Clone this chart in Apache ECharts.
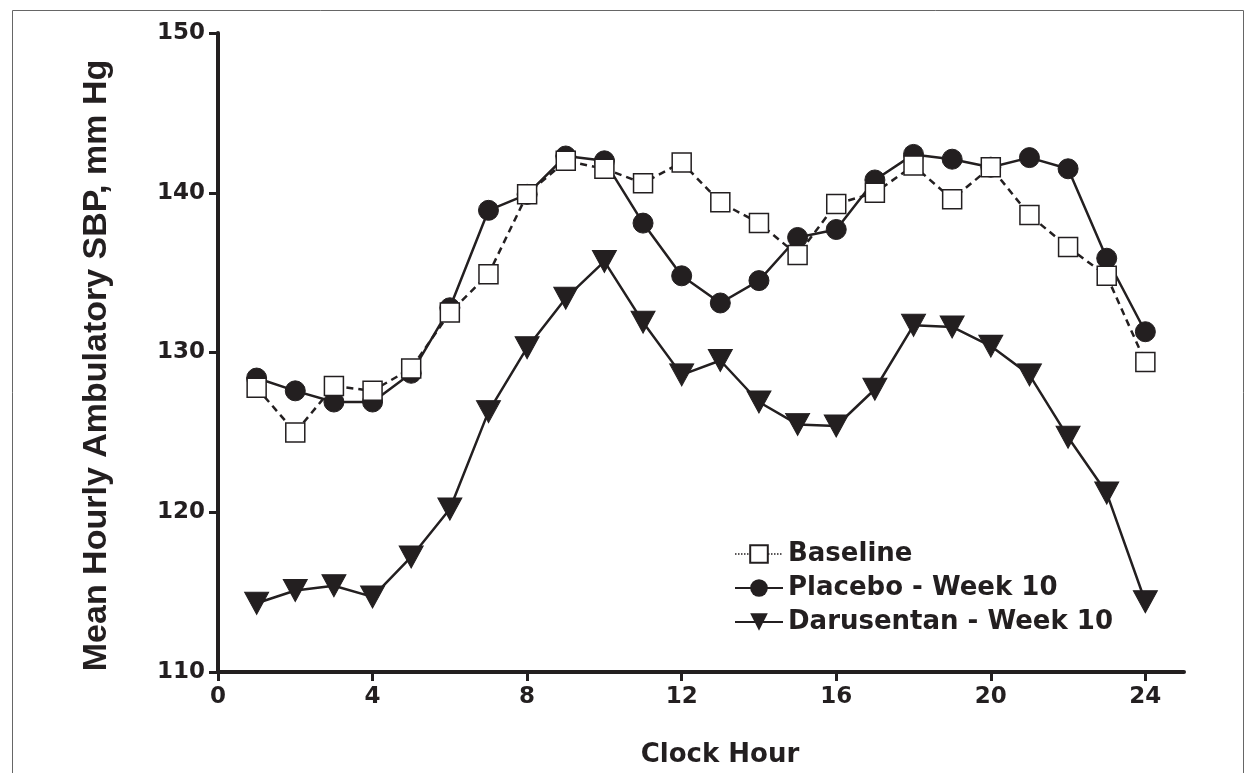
<!DOCTYPE html>
<html>
<head>
<meta charset="utf-8">
<script src="https://cdn.jsdelivr.net/npm/echarts@6/dist/echarts.min.js"></script>
<style>
  html, body { margin: 0; padding: 0; background: #fff; }
  #chart { width: 1252px; height: 773px; }
</style>
</head>
<body>
<div id="chart"></div>
<script>
// clock hour 1..24
var hours = [1, 2, 3, 4, 5, 6, 7, 8, 9, 10, 11, 12, 13, 14, 15, 16, 17, 18, 19, 20, 21, 22, 23, 24];
var baseline = [127.8, 125.0, 127.9, 127.6, 129.0, 132.5, 134.9, 139.9, 142.0, 141.5, 140.6, 141.9,
                139.4, 138.1, 136.1, 139.3, 140.0, 141.7, 139.6, 141.6, 138.6, 136.6, 134.8, 129.4];
var placebo = [128.4, 127.6, 126.9, 126.9, 128.7, 132.8, 138.9, 139.9, 142.3, 142.0, 138.1, 134.8,
               133.1, 134.5, 137.2, 137.7, 140.8, 142.4, 142.1, 141.6, 142.2, 141.5, 135.9, 131.3];
var darusentan = [114.3, 115.1, 115.4, 114.7, 117.2, 120.2, 126.3, 130.3, 133.4, 135.7, 131.9, 128.6,
                  129.5, 126.9, 125.5, 125.4, 127.7, 131.7, 131.6, 130.4, 128.6, 124.7, 121.2, 114.4];
var xTicks = [0, 4, 8, 12, 16, 20, 24];
var seriesNames = ['Baseline', 'Placebo - Week 10', 'Darusentan - Week 10'];

var ink = '#231f20';
function pairs(vals) {
    return hours.map(function (h, i) { return [h, vals[i]]; });
}

var chart = echarts.init(document.getElementById('chart'));
chart.setOption({
    animation: false,
    backgroundColor: '#fff',
    // thin frame round the figure
    graphic: [{
        type: 'rect',
        left: 10, top: 8,
        shape: { width: 1231, height: 800 },
        style: { fill: 'none', stroke: '#666', lineWidth: 1 },
        silent: true
    }],
    grid: {
        left: 218,
        right: 68,
        top: 33,
        bottom: 101,
        containLabel: false
    },
    legend: {
        orient: 'vertical',
        left: 729,
        top: 536,
        itemWidth: 48,
        itemHeight: 22,
        itemGap: 8,
        data: [
            { name: seriesNames[0], lineStyle: { type: 'dotted', width: 1.5 } },
            { name: seriesNames[1] },
            { name: seriesNames[2] }
        ],
        textStyle: {
            color: ink,
            fontFamily: 'DejaVu Sans',
            fontWeight: 'bold',
            fontSize: 26
        }
    },
    xAxis: {
        type: 'value',
        min: 0,
        max: 25,
        name: 'Clock Hour',
        nameLocation: 'middle',
        nameGap: 70,
        nameTextStyle: {
            color: ink,
            fontFamily: 'DejaVu Sans',
            fontWeight: 'bold',
            fontSize: 26,
            padding: [0, 0, 0, 38]
        },
        axisLine: { show: true, lineStyle: { color: ink, width: 4 } },
        axisTick: { show: true, customValues: xTicks, length: 9, lineStyle: { color: ink, width: 3 } },
        axisLabel: {
            customValues: xTicks,
            margin: 14,
            color: ink,
            fontFamily: 'DejaVu Sans',
            fontWeight: 'bold',
            fontSize: 23
        },
        splitLine: { show: false }
    },
    yAxis: {
        type: 'value',
        min: 110,
        max: 150,
        interval: 10,
        name: 'Mean Hourly Ambulatory SBP, mm Hg',
        nameLocation: 'middle',
        nameGap: 104,
        nameRotate: 90,
        nameTextStyle: {
            color: ink,
            fontFamily: 'Liberation Sans',
            fontWeight: 'bold',
            fontSize: 34,
            padding: [0, 26, 0, 0]
        },
        axisLine: { show: true, lineStyle: { color: ink, width: 4 } },
        axisTick: { show: true, length: 9, lineStyle: { color: ink, width: 3 } },
        axisLabel: {
            margin: 13,
            color: ink,
            fontFamily: 'DejaVu Sans',
            fontWeight: 'bold',
            fontSize: 23
        },
        splitLine: { show: false }
    },
    series: [
        {
            name: 'Darusentan - Week 10',
            type: 'line',
            z: 2,
            data: pairs(darusentan),
            symbol: 'triangle',
            symbolRotate: 180,
            symbolSize: [24, 22],
            lineStyle: { color: ink, width: 2.5 },
            itemStyle: { color: ink, borderColor: ink }
        },
        {
            name: 'Placebo - Week 10',
            type: 'line',
            z: 3,
            data: pairs(placebo),
            symbol: 'circle',
            symbolSize: 20,
            lineStyle: { color: ink, width: 2.5 },
            itemStyle: { color: ink, borderColor: ink }
        },
        {
            name: 'Baseline',
            type: 'line',
            z: 4,
            data: pairs(baseline),
            symbol: 'rect',
            symbolSize: 19,
            lineStyle: { color: ink, width: 2.5, type: [7, 5] },
            itemStyle: { color: '#fff', borderColor: ink, borderWidth: 1.5 }
        }
    ]
});
</script>
</body>
</html>
